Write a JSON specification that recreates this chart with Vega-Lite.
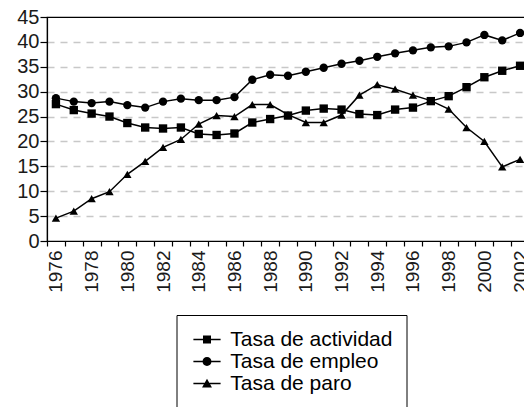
{
  "$schema": "https://vega.github.io/schema/vega-lite/v6.json",
  "width": 482,
  "height": 224,
  "padding": {"left": 16, "top": 7, "right": 0, "bottom": 0},
  "background": "white",
  "config": {
    "font": "Liberation Sans",
    "view": {"stroke": "#000", "strokeWidth": 1.2},
    "axis": {"labelFont": "Liberation Sans", "labelColor": "#1a1a1a", "domainColor": "#000", "tickColor": "#000", "domainWidth": 1.2, "tickWidth": 1.2}
  },
  "data": {
    "values": [
      {"year": 1976, "serie": "Tasa de actividad", "valor": 27.5},
      {"year": 1977, "serie": "Tasa de actividad", "valor": 26.3},
      {"year": 1978, "serie": "Tasa de actividad", "valor": 25.6},
      {"year": 1979, "serie": "Tasa de actividad", "valor": 25.0},
      {"year": 1980, "serie": "Tasa de actividad", "valor": 23.7},
      {"year": 1981, "serie": "Tasa de actividad", "valor": 22.8},
      {"year": 1982, "serie": "Tasa de actividad", "valor": 22.6},
      {"year": 1983, "serie": "Tasa de actividad", "valor": 22.8},
      {"year": 1984, "serie": "Tasa de actividad", "valor": 21.5},
      {"year": 1985, "serie": "Tasa de actividad", "valor": 21.3},
      {"year": 1986, "serie": "Tasa de actividad", "valor": 21.6},
      {"year": 1987, "serie": "Tasa de actividad", "valor": 23.8},
      {"year": 1988, "serie": "Tasa de actividad", "valor": 24.5},
      {"year": 1989, "serie": "Tasa de actividad", "valor": 25.2},
      {"year": 1990, "serie": "Tasa de actividad", "valor": 26.2},
      {"year": 1991, "serie": "Tasa de actividad", "valor": 26.6},
      {"year": 1992, "serie": "Tasa de actividad", "valor": 26.4},
      {"year": 1993, "serie": "Tasa de actividad", "valor": 25.5},
      {"year": 1994, "serie": "Tasa de actividad", "valor": 25.3},
      {"year": 1995, "serie": "Tasa de actividad", "valor": 26.4},
      {"year": 1996, "serie": "Tasa de actividad", "valor": 26.8},
      {"year": 1997, "serie": "Tasa de actividad", "valor": 28.1},
      {"year": 1998, "serie": "Tasa de actividad", "valor": 29.1},
      {"year": 1999, "serie": "Tasa de actividad", "valor": 30.9},
      {"year": 2000, "serie": "Tasa de actividad", "valor": 32.9},
      {"year": 2001, "serie": "Tasa de actividad", "valor": 34.2},
      {"year": 2002, "serie": "Tasa de actividad", "valor": 35.2},
      {"year": 1976, "serie": "Tasa de empleo", "valor": 28.7},
      {"year": 1977, "serie": "Tasa de empleo", "valor": 28.0},
      {"year": 1978, "serie": "Tasa de empleo", "valor": 27.7},
      {"year": 1979, "serie": "Tasa de empleo", "valor": 28.0},
      {"year": 1980, "serie": "Tasa de empleo", "valor": 27.3},
      {"year": 1981, "serie": "Tasa de empleo", "valor": 26.8},
      {"year": 1982, "serie": "Tasa de empleo", "valor": 28.0},
      {"year": 1983, "serie": "Tasa de empleo", "valor": 28.6},
      {"year": 1984, "serie": "Tasa de empleo", "valor": 28.3},
      {"year": 1985, "serie": "Tasa de empleo", "valor": 28.3},
      {"year": 1986, "serie": "Tasa de empleo", "valor": 28.9},
      {"year": 1987, "serie": "Tasa de empleo", "valor": 32.4},
      {"year": 1988, "serie": "Tasa de empleo", "valor": 33.4},
      {"year": 1989, "serie": "Tasa de empleo", "valor": 33.2},
      {"year": 1990, "serie": "Tasa de empleo", "valor": 34.0},
      {"year": 1991, "serie": "Tasa de empleo", "valor": 34.8},
      {"year": 1992, "serie": "Tasa de empleo", "valor": 35.6},
      {"year": 1993, "serie": "Tasa de empleo", "valor": 36.2},
      {"year": 1994, "serie": "Tasa de empleo", "valor": 37.0},
      {"year": 1995, "serie": "Tasa de empleo", "valor": 37.7},
      {"year": 1996, "serie": "Tasa de empleo", "valor": 38.3},
      {"year": 1997, "serie": "Tasa de empleo", "valor": 38.9},
      {"year": 1998, "serie": "Tasa de empleo", "valor": 39.1},
      {"year": 1999, "serie": "Tasa de empleo", "valor": 39.9},
      {"year": 2000, "serie": "Tasa de empleo", "valor": 41.4},
      {"year": 2001, "serie": "Tasa de empleo", "valor": 40.3},
      {"year": 2002, "serie": "Tasa de empleo", "valor": 41.8},
      {"year": 1976, "serie": "Tasa de paro", "valor": 4.6},
      {"year": 1977, "serie": "Tasa de paro", "valor": 6.0},
      {"year": 1978, "serie": "Tasa de paro", "valor": 8.5},
      {"year": 1979, "serie": "Tasa de paro", "valor": 9.9},
      {"year": 1980, "serie": "Tasa de paro", "valor": 13.4},
      {"year": 1981, "serie": "Tasa de paro", "valor": 16.0},
      {"year": 1982, "serie": "Tasa de paro", "valor": 18.8},
      {"year": 1983, "serie": "Tasa de paro", "valor": 20.4},
      {"year": 1984, "serie": "Tasa de paro", "valor": 23.5},
      {"year": 1985, "serie": "Tasa de paro", "valor": 25.2},
      {"year": 1986, "serie": "Tasa de paro", "valor": 25.0},
      {"year": 1987, "serie": "Tasa de paro", "valor": 27.4},
      {"year": 1988, "serie": "Tasa de paro", "valor": 27.4},
      {"year": 1989, "serie": "Tasa de paro", "valor": 25.4},
      {"year": 1990, "serie": "Tasa de paro", "valor": 23.8},
      {"year": 1991, "serie": "Tasa de paro", "valor": 23.8},
      {"year": 1992, "serie": "Tasa de paro", "valor": 25.3},
      {"year": 1993, "serie": "Tasa de paro", "valor": 29.3},
      {"year": 1994, "serie": "Tasa de paro", "valor": 31.4},
      {"year": 1995, "serie": "Tasa de paro", "valor": 30.5},
      {"year": 1996, "serie": "Tasa de paro", "valor": 29.3},
      {"year": 1997, "serie": "Tasa de paro", "valor": 28.2},
      {"year": 1998, "serie": "Tasa de paro", "valor": 26.5},
      {"year": 1999, "serie": "Tasa de paro", "valor": 22.8},
      {"year": 2000, "serie": "Tasa de paro", "valor": 20.0},
      {"year": 2001, "serie": "Tasa de paro", "valor": 14.9},
      {"year": 2002, "serie": "Tasa de paro", "valor": 16.4}
    ]
  },
  "encoding": {
    "x": {
      "field": "year", "type": "ordinal",
      "scale": {"type": "band", "paddingInner": 0, "paddingOuter": 0},
      "axis": {
        "title": null, "labelAngle": -90, "labelAlign": "right", "labelBaseline": "middle", "labelFontSize": 19,
        "tickBand": "extent", "tickSize": 5, "labelPadding": 4, "labelOverlap": false,
        "labelExpr": "datum.value % 2 == 0 ? datum.label : ''", "grid": false
      }
    },
    "y": {
      "field": "valor", "type": "quantitative",
      "scale": {"domain": [0, 45], "nice": false},
      "axis": {
        "title": null, "values": [0, 5, 10, 15, 20, 25, 30, 35, 40, 45], "labelFontSize": 20,
        "tickSize": 7, "labelPadding": 1, "grid": true,
        "gridColor": "#c8c8c8", "gridDash": [7, 6], "gridWidth": 1.5,
        "gridOpacity": {"condition": {"test": "datum.value == 0 || datum.value == 45", "value": 0}, "value": 1}
      }
    }
  },
  "layer": [
    {
      "mark": {"type": "line", "color": "#000", "strokeWidth": 1.5},
      "encoding": {"detail": {"field": "serie"}}
    },
    {
      "mark": {"type": "point", "filled": true, "color": "#000", "opacity": 1, "size": 70},
      "encoding": {
        "shape": {
          "field": "serie", "type": "nominal",
          "scale": {"domain": ["Tasa de actividad", "Tasa de empleo", "Tasa de paro"], "range": ["square", "circle", "triangle-up"]},
          "legend": null
        }
      }
    },
    {
      "transform": [{"filter": "datum.valor < 0"}],
      "mark": {"type": "point", "filled": true, "color": "#000", "opacity": 1},
      "encoding": {
        "shape": {
          "field": "serie", "type": "nominal",
          "scale": {
            "domain": ["Tasa de actividad", "Tasa de empleo", "Tasa de paro"],
            "range": [
              "M-1.7,-0.09H-0.4V0.09H-1.7ZM0.4,-0.09H1.7V0.09H0.4ZM-0.5,-0.5H0.5V0.5H-0.5Z",
              "M-1.7,-0.09H-0.45V0.09H-1.7ZM0.45,-0.09H1.7V0.09H0.45ZM0.56,0A0.56,0.56 0 1,1 -0.56,0A0.56,0.56 0 1,1 0.56,0Z",
              "M-1.7,-0.09H-0.3V0.09H-1.7ZM0.3,-0.09H1.7V0.09H0.3ZM0,-0.6L0.62,0.5L-0.62,0.5Z"
            ]
          },
          "legend": {
            "title": null, "orient": "none", "legendX": 129.5, "legendY": 298,
            "strokeColor": "#000", "padding": 14, "rowPadding": 0,
            "labelFont": "Liberation Sans", "labelFontSize": 21, "labelColor": "#000", "labelLimit": 400,
            "symbolSize": 256, "symbolOffset": 6, "labelOffset": 12.7,
            "symbolFillColor": "#000", "symbolStrokeColor": "#000", "symbolStrokeWidth": 0, "symbolOpacity": 1
          }
        }
      }
    }
  ],
  "resolve": {"scale": {"shape": "independent"}}
}
